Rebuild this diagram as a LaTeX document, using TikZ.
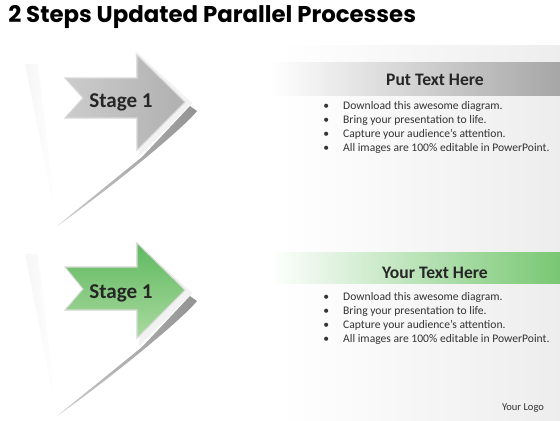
\documentclass[tikz,border=0pt]{standalone}
\usepackage{fontspec}
\setmainfont{Carlito}
\newfontfamily\titlefont{Poppins}
\usetikzlibrary{positioning}

\definecolor{stagegreen}{RGB}{95,185,95}
\definecolor{stagegreenlt}{RGB}{170,218,160}
\definecolor{bandgreen}{RGB}{120,200,115}

\tikzset{
  stagearrow/.style={draw=white!70!gray, line width=0.6pt},
  bevel/.style={fill=gray!10, draw=white},
  shard/.style={left color=gray!40, right color=gray!85},
  pageedge/.style={left color=gray!7, right color=white},
  stagetext/.style={font=\fontsize{12}{14}\selectfont\bfseries, text=black!85},
  bandtext/.style={font=\fontsize{10}{12}\selectfont\bfseries, text=black!85},
  bullettext/.style={font=\fontsize{6.6}{7.95}\selectfont, text=black!80, inner sep=0pt, anchor=west, align=left}
}

\newcommand{\bulletlist}{%
  \begin{tabular}{@{}l@{\hspace{8pt}}l@{}}
  \textbullet & Download this awesome diagram.\\
  \textbullet & Bring your presentation to life.\\
  \textbullet & Capture your audience’s attention.\\
  \textbullet & All images are 100\% editable in PowerPoint.
  \end{tabular}}

\begin{document}
\begin{tikzpicture}[x=0.2mm, y=-0.2mm]
\useasboundingbox (0,0) rectangle (560,420);

% Fondo del lado derecho
\shade [left color=white, right color=gray!14] (280,45) rectangle (560,420);

% Titulo
\node [anchor=base west, inner sep=0pt, font=\titlefont\fontsize{13}{15}\selectfont\bfseries] (title) at (8,22) {2 Steps Updated Parallel Processes};

% Etapa 1 (gris)
\shade [pageedge] (25,64) -- (38,64) -- (57,226) -- cycle;
\fill [bevel] (135,50) -- (193,103) -- (139,157) -- cycle;
\shade [shard] (190,106) -- (197,111) .. controls (180,132) and (100,196) .. (57,226) -- (142,157) -- cycle;
\shade [stagearrow, left color=gray!40, right color=gray!62]
  (65,78) -- (137,78) -- (137,55) -- (185,102) -- (137,150) -- (137,118) -- (65,118) -- (83,98) -- cycle;
\node [stagetext] (stage1) at (121,102) {Stage 1};

\shade [left color=white, right color=gray!70] (270,62) rectangle (560,95);
\node [bandtext] (band1) at (435,80) {Put Text Here};
\node [bullettext] (list1) at (323,128) {\bulletlist};

% Etapa 2 (verde)
\begin{scope}[shift={(0,190)}]
\shade [pageedge] (25,64) -- (38,64) -- (57,226) -- cycle;
\fill [bevel] (135,50) -- (193,103) -- (139,157) -- cycle;
\shade [shard] (190,106) -- (197,111) .. controls (180,132) and (100,196) .. (57,226) -- (142,157) -- cycle;
\shade [stagearrow, top color=stagegreen, bottom color=stagegreenlt]
  (65,77) -- (137,77) -- (137,53) -- (185,100) -- (137,148) -- (137,120) -- (65,120) -- (83,99) -- cycle;
\node [stagetext] (stage2) at (121,103) {Stage 1};

\shade [left color=white, right color=bandgreen] (270,62) rectangle (560,93);
\node [bandtext] (band2) at (435,83) {Your Text Here};
\node [bullettext] (list2) at (323,129) {\bulletlist};
\end{scope}

% Logo
\node [font=\fontsize{6}{7}\selectfont, text=black!80] (logo) at (523,408) {Your Logo};
\end{tikzpicture}
\end{document}
